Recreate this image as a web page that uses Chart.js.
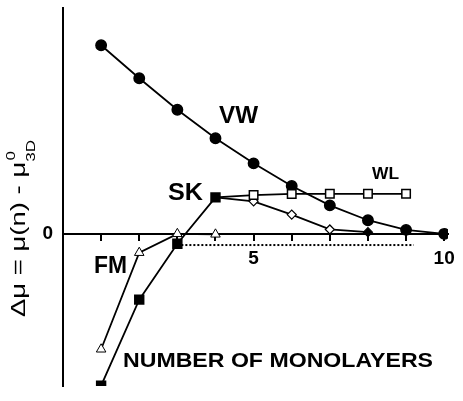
<!DOCTYPE html>
<html>
<head>
<meta charset="utf-8">
<script src="https://cdn.jsdelivr.net/npm/chart.js@4/dist/chart.umd.min.js"></script>
<style>
  html, body { margin: 0; padding: 0; background: #fff; }
  #wrap { width: 463px; height: 401px; }
</style>
</head>
<body>
<div id="wrap"><canvas id="c" width="463" height="401"></canvas></div>
<script>
// ---- data (y in arbitrary units, 0 = bulk) ----
const vwN = [1, 2, 3, 4, 5, 6, 7, 8, 9, 10];
const vwValues = [19.0, 15.67, 12.5, 9.63, 7.1, 4.82, 2.87, 1.37, 0.4, 0];
const skN = [1, 2, 3, 4];
const skValues = [-15.3, -6.63, -1.0, 3.67];
const wlN = [4, 5, 6, 7, 8, 9];
const wlValues = [3.67, 3.9, 4.02, 4.03, 4.03, 4.03];
const dmN = [4, 5, 6, 7, 8];
const dmValues = [3.67, 3.27, 1.94, 0.44, 0.17];
const fmN = [1, 2, 3, 4];
const fmValues = [-11.63, -1.9, 0, -0.05];
const dotN = [3, 9.2];
const dotValues = [-1.13, -1.13];
const xTickValues = [1, 2, 3, 4, 5, 6, 7, 8, 9, 10];
const xTickLabels = ['', '', '', '', '5', '', '', '', '', '10'];
const yTickValues = [0];
const yTickLabels = ['0'];

const pts = (xs, ys) => xs.map((x, i) => ({ x: x, y: ys[i] }));
const FONT = '"Liberation Sans", Arial, Helvetica, sans-serif';

const textPlugin = {
  id: 'texts',
  afterDraw(chart) {
    const ctx = chart.ctx;
    ctx.save();
    ctx.fillStyle = '#000';
    ctx.textBaseline = 'alphabetic';
    function fit(text, cx, baseY, font, width) {
      ctx.save();
      ctx.font = font;
      const w = ctx.measureText(text).width;
      ctx.translate(cx, baseY);
      if (width) ctx.scale(width / w, 1);
      ctx.textAlign = 'center';
      ctx.fillText(text, 0, 0);
      ctx.restore();
    }
    fit('VW', 238.5, 123, 'bold 24px ' + FONT, 39);
    fit('SK', 185.5, 200, 'bold 23px ' + FONT, 35);
    fit('FM', 110.5, 273, 'bold 24px ' + FONT, 33);
    fit('WL', 385.5, 179, 'bold 17px ' + FONT, 27);
    fit('NUMBER OF MONOLAYERS', 278, 367, 'bold 21px ' + FONT, 310);

    // rotated y-axis title: Δμ = μ(n) - μ^0_3D
    const main = 'Δμ = μ(n) - μ';
    ctx.font = '21px ' + FONT;
    const wMain = ctx.measureText(main).width;
    ctx.font = '13px ' + FONT;
    const w0 = ctx.measureText('0').width;
    const w3 = ctx.measureText('3D').width;
    const total = wMain + Math.max(w0, w3);
    const s = 177 / total;
    ctx.translate(25, 317);
    ctx.rotate(-Math.PI / 2);
    ctx.scale(s, 1);
    ctx.textAlign = 'left';
    ctx.font = '21px ' + FONT;
    ctx.fillText(main, 0, 0);
    ctx.font = '13px ' + FONT;
    ctx.fillText('0', wMain + 1, -10);
    ctx.fillText('3D', wMain, 10);
    ctx.restore();
  }
};

const common = { borderColor: '#000', borderWidth: 1.8, showLine: true, tension: 0, pointBorderWidth: 1.5, pointBorderColor: '#000' };

new Chart(document.getElementById('c'), {
  type: 'scatter',
  data: {
    datasets: [
      Object.assign({}, common, { label: 'SK', data: pts(skN, skValues), pointStyle: 'rect', pointRadius: 6.3, pointBackgroundColor: '#000' }),
      Object.assign({}, common, { label: 'FM', data: pts(fmN, fmValues), pointStyle: 'triangle', pointRadius: 5.5, pointBackgroundColor: '#fff', pointBorderWidth: 1 }),
      Object.assign({}, common, { label: 'WL', data: pts(wlN, wlValues), pointStyle: 'rect', pointRadius: wlN.map((n, i) => i === 0 ? 0 : 6), pointBackgroundColor: '#fff' }),
      Object.assign({}, common, { label: 'SK2', data: pts(dmN, dmValues), pointStyle: 'rectRot', pointRadius: dmN.map((n, i) => i === 0 ? 0 : 4.5), pointBackgroundColor: dmN.map((n, i) => i === dmN.length - 1 ? '#000' : '#fff'), pointBorderWidth: 1.2 }),
      Object.assign({}, common, { label: 'VW', data: pts(vwN, vwValues), pointStyle: 'circle', pointRadius: 5.2, pointBackgroundColor: '#000' }),
      { label: 'dots', data: pts(dotN, dotValues), showLine: true, borderColor: '#000', borderWidth: 2, borderDash: [2, 2], pointRadius: 0 }
    ]
  },
  options: {
    responsive: false,
    devicePixelRatio: 1,
    animation: false,
    events: [],
    layout: { padding: { top: 5, bottom: 15, left: 0, right: 15 } },
    plugins: { legend: { display: false }, tooltip: { enabled: false } },
    elements: { point: { hitRadius: 0 } },
    scales: {
      x: {
        type: 'linear',
        min: 0,
        max: 10.1,
        position: { y: 0 },
        afterBuildTicks: (scale) => { scale.ticks = xTickValues.map(v => ({ value: v })); },
        ticks: {
          autoSkip: false,
          maxRotation: 0,
          color: '#000',
          padding: 8,
          font: { family: FONT, size: 19, weight: 'bold' },
          callback: (v) => { const i = xTickValues.indexOf(v); return i >= 0 ? xTickLabels[i] : ''; }
        },
        grid: { drawOnChartArea: false, drawTicks: true, tickLength: 6, color: '#000', lineWidth: 2 },
        border: { display: true, color: '#000', width: 2 }
      },
      y: {
        type: 'linear',
        min: -15.33,
        max: 22.77,
        position: 'left',
        afterFit: (scale) => { scale.width = 63; scale.paddingTop = 0; scale.paddingBottom = 0; },
        afterBuildTicks: (scale) => { scale.ticks = yTickValues.map(v => ({ value: v })); },
        ticks: {
          color: '#000',
          padding: 10,
          font: { family: FONT, size: 19, weight: 'bold' },
          callback: (v) => { const i = yTickValues.indexOf(v); return i >= 0 ? yTickLabels[i] : ''; }
        },
        grid: { display: false, drawTicks: false },
        border: { display: true, color: '#000', width: 2 }
      }
    }
  },
  plugins: [textPlugin]
});
</script>
</body>
</html>
